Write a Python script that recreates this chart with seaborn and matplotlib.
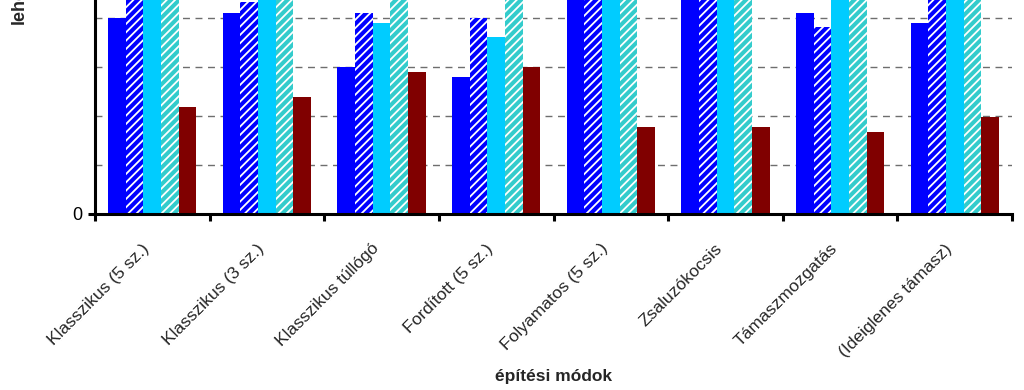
import numpy as np
import pandas as pd
import matplotlib
matplotlib.use('Agg')
import matplotlib.pyplot as plt
import seaborn as sns

# építési módok (categories)
modok = ['Klasszikus (5 sz.)', 'Klasszikus (3 sz.)', 'Klasszikus túllógó',
         'Fordított (5 sz.)', 'Folyamatos (5 sz.)', 'Zsaluzókocsis',
         'Támaszmozgatás', '(Ideiglenes támasz)']
sorozatok = ['1', '2', '3', '4', '5']

# values (bars above ~88 are cut by the top edge)
s1 = [80, 82, 60, 56, 95, 96, 82, 78]
s2 = [96, 86.5, 82, 80, 97, 98, 76, 94]
s3 = [98, 97, 78, 72, 99, 99, 96, 97]
s4 = [99, 98, 95, 93, 100, 100, 98, 99]
s5 = [43.6, 47.7, 58, 60, 35.4, 35.4, 33.5, 39.6]

szinek = ['#0000FF', '#0000FF', '#00CCFF', '#33CCCC', '#800000']
mintak = ['', '////', '', '////', '']

df = pd.DataFrame({
    'mod': modok * 5,
    'sorozat': np.repeat(sorozatok, len(modok)),
    'ertek': s1 + s2 + s3 + s4 + s5,
})

sns.set_theme(style='white')
plt.rcParams['font.family'] = ['Liberation Sans', 'DejaVu Sans']
plt.rcParams['hatch.linewidth'] = 1.3

fig = plt.figure(figsize=(10.24, 3.9), dpi=100)
# axes top deliberately runs past the figure edge, like the cropped original
ax = fig.add_axes([95 / 1024, 176 / 390, 917 / 1024, 245.5 / 390])

sns.barplot(data=df, x='mod', y='ertek', hue='sorozat', palette=szinek,
            width=0.77, saturation=1, linewidth=0, legend=False, ax=ax)

for cont, minta in zip(ax.containers, mintak):
    if minta:
        for bar in cont:
            bar.set_hatch(minta)
            bar.set_edgecolor('white')
            bar.set_linewidth(0)

ax.set_xlim(-0.5, len(modok) - 0.5)
ax.set_ylim(0, 100)

ax.set_yticks([0])
ax.set_yticklabels(['0'], fontsize=13)
ax.set_yticks([20, 40, 60, 80], minor=True)
ax.grid(which='minor', axis='y', color='#6e6e6e', linestyle=(0, (5, 4)), linewidth=1)
ax.set_axisbelow(True)
ax.tick_params(axis='y', which='major', left=True, length=5, width=2.2,
               direction='out', pad=4, colors='black')
ax.tick_params(axis='y', which='minor', left=False, length=0)

ax.set_xticks(range(len(modok)))
ax.set_xticklabels(modok, rotation=45, ha='right', va='bottom',
                   rotation_mode='anchor', fontsize=12.6)
ax.set_xticks(np.arange(-0.5, len(modok)), minor=True)
ax.tick_params(axis='x', which='major', bottom=True, length=0, pad=27)
ax.tick_params(axis='x', which='minor', bottom=True, length=5, width=2.2,
               direction='out', colors='black')

for side in ['top', 'right']:
    ax.spines[side].set_visible(False)
for side in ['left', 'bottom']:
    ax.spines[side].set_linewidth(2.2)
    ax.spines[side].set_color('black')

ax.set_xlabel('építési módok', fontsize=12.5, fontweight='bold')
ax.xaxis.set_label_coords(0.5, -0.63)
ax.set_ylabel('')
fig.text(19 / 1024, 366 / 390, 'lehetőség', rotation=90, ha='center', va='bottom',
         fontsize=13, fontweight='bold')

fig.savefig('out.png', dpi=100)
